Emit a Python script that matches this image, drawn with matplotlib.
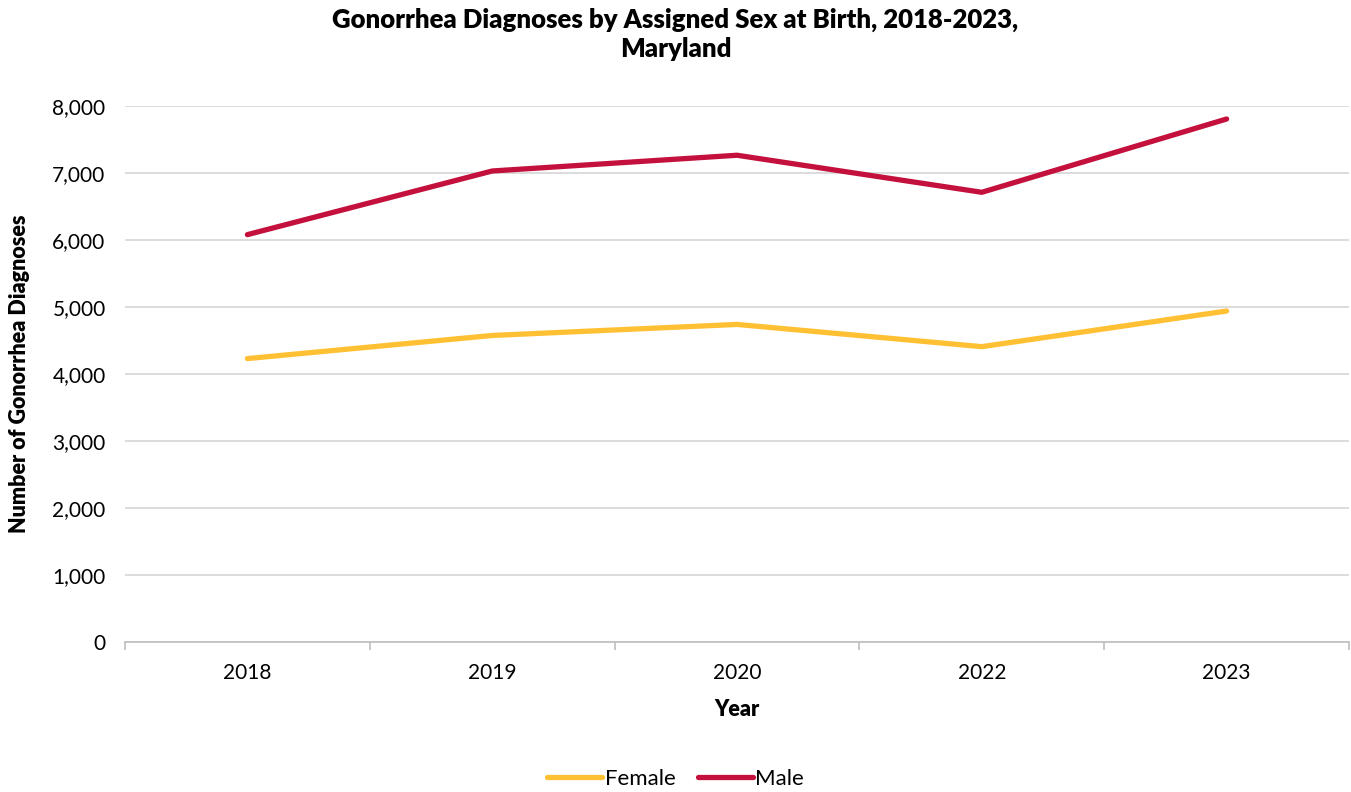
import matplotlib.pyplot as plt
from matplotlib.ticker import FuncFormatter, FixedLocator

years = ['2018', '2019', '2020', '2022', '2023']
female = [4230, 4575, 4740, 4408, 4940]
male = [6080, 7030, 7265, 6712, 7806]

plt.rcParams['font.family'] = ['Lato', 'DejaVu Sans']

fig = plt.figure(figsize=(13.51, 7.92), dpi=100)
ax = fig.add_axes([125 / 1351, 1 - 642 / 792, (1349 - 125) / 1351, (642 - 106) / 792])

x = list(range(len(years)))
ax.plot(x, female, color='#FFC033', lw=3.8, solid_capstyle='round', label='Female', zorder=3)
ax.plot(x, male, color='#C4103D', lw=3.8, solid_capstyle='round', label='Male', zorder=3)

ax.set_xlim(-0.5, len(years) - 0.5)
ax.set_ylim(0, 8000)
ax.set_yticks(range(0, 8001, 1000))
ax.yaxis.set_major_formatter(FuncFormatter(lambda v, p: f'{int(v):,}'))
ax.tick_params(axis='y', length=0, labelsize=15, pad=14)
ax.grid(axis='y', color='#D9D9D9', lw=1.3)
ax.set_axisbelow(True)

# category labels at centres, tick marks at boundaries
ax.set_xticks(x)
ax.set_xticklabels(years)
ax.tick_params(axis='x', which='major', length=0, labelsize=15, pad=15)
ax.xaxis.set_minor_locator(FixedLocator([i - 0.5 for i in range(len(years) + 1)]))
ax.tick_params(axis='x', which='minor', length=6, color='#BFBFBF', width=1.2)

for s in ['top', 'right', 'left']:
    ax.spines[s].set_visible(False)
ax.spines['bottom'].set_color('#BFBFBF')
ax.spines['bottom'].set_linewidth(1.2)

ax.set_xlabel('Year', fontsize=15.5, fontweight='heavy', labelpad=12)
ax.set_ylabel('Number of Gonorrhea Diagnoses', fontsize=15.5, fontweight='heavy', labelpad=16)

fig.suptitle('Gonorrhea Diagnoses by Assigned Sex at Birth, 2018-2023,\nMaryland',
             fontsize=18.5, fontweight='heavy', y=0.99, linespacing=1.25)

fig.legend(loc='center', bbox_to_anchor=(0.5, 1 - 779 / 792), ncol=2, frameon=False,
           fontsize=16, handlelength=2.5, handletextpad=0.1, columnspacing=1.0)

fig.savefig('out.png', dpi=100)
